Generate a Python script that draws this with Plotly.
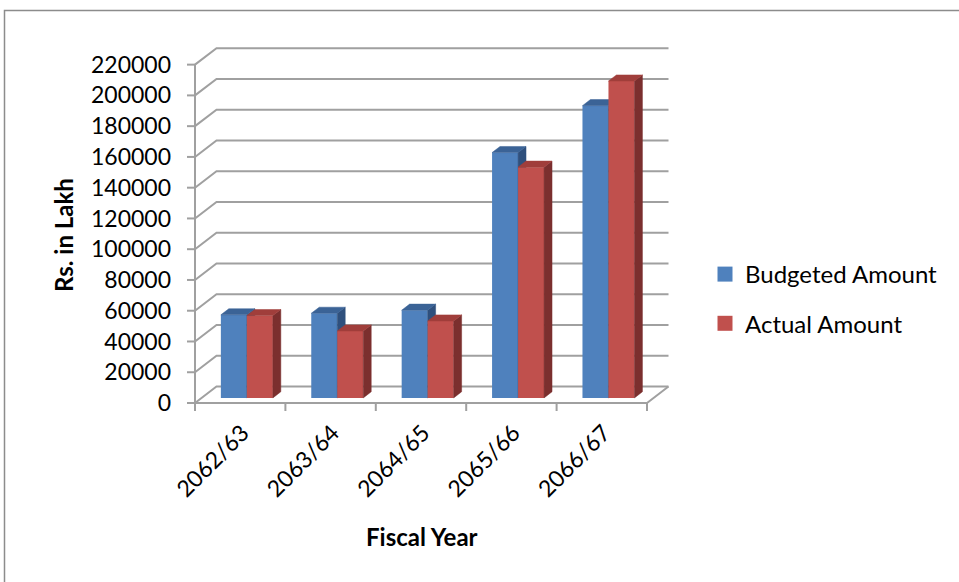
import plotly.graph_objects as go

# ---- data -------------------------------------------------------------
years = ["2062/63", "2063/64", "2064/65", "2065/66", "2066/67"]
budgeted = [54000, 55000, 57000, 159500, 190000]
actual = [53500, 43500, 50000, 150000, 206000]
y_ticks = list(range(0, 220001, 20000))

# ---- layout geometry (pixels) -----------------------------------------
W, H = 959, 582
PLOT_L, PLOT_R, PLOT_T, PLOT_B = 180, 675, 40, 420
FRONT_X0 = 195.0          # pixel of the front-left corner of the floor
CAT_PX = 90.4             # pixels per category
FRONT_Y0 = 403.0          # pixel of value 0 on the front plane
PX_PER_UNIT = 30.76 / 20000

n = len(years)
x_range = [-0.5 - (FRONT_X0 - PLOT_L) / CAT_PX,
           n - 0.5 + (PLOT_R - (FRONT_X0 + n * CAT_PX)) / CAT_PX]
y_range = [-(PLOT_B - FRONT_Y0) / PX_PER_UNIT, (FRONT_Y0 - PLOT_T) / PX_PER_UNIT]

# oblique depth of the 3-D box, in data units
DX = 21.5 / CAT_PX
DY = 16.5 / PX_PER_UNIT
# bars sit part way into the box
FRONT = 0.31
DEPTH = 0.37
BW = 26 / CAT_PX
SHIFT_X, BASE = FRONT * DX, FRONT * DY
DDX, DDY = DEPTH * DX, DEPTH * DY
TICK_X = 8 / CAT_PX
TICK_Y = 8 / PX_PER_UNIT

GRID = "#a0a0a0"
FONT = "Lato"


def px_to_paper_x(px):
    return (px - PLOT_L) / (PLOT_R - PLOT_L)


def px_to_paper_y(py):
    return (PLOT_B - py) / (PLOT_B - PLOT_T)


fig = go.Figure()

# ---- walls, floor, axis lines (base layer) ----------------------------
gx, gy = [], []
xl, xr = -0.5, n - 0.5
for v in y_ticks:
    # back-wall gridline and the slanted line on the side wall
    gx += [xl, xl + DX, xr + DX, None]
    gy += [v, v + DY, v + DY, None]
# floor: front edge and right edge
gx += [xl, xr, xr + DX, None]
gy += [0, 0, DY, None]
# front vertical axis
gx += [xl, xl, None]
gy += [0, y_ticks[-1], None]
# tick marks on the vertical axis
for v in y_ticks:
    gx += [xl - TICK_X, xl, None]
    gy += [v, v, None]
# tick marks between categories
for k in range(n + 1):
    b = k - 0.5
    gx += [b, b, None]
    gy += [0, -TICK_Y, None]
fig.add_trace(go.Scatter(x=gx, y=gy, mode="lines",
                         line=dict(color=GRID, width=2),
                         hoverinfo="skip", showlegend=False,
                         xaxis="x", yaxis="y"))


def faces(centers, values):
    sx, sy, tx, ty = [], [], [], []
    for c, val in zip(centers, values):
        left, right = c - BW / 2, c + BW / 2
        top = BASE + val
        sx += [right, right + DDX, right + DDX, right, right, None]
        sy += [BASE, BASE + DDY, top + DDY, top, BASE, None]
        tx += [left, left + DDX, right + DDX, right, left, None]
        ty += [top, top + DDY, top + DDY, top, top, None]
    return sx, sy, tx, ty


series = [
    ("Budgeted Amount", budgeted, -1, "#4f81bd", "#3b6396", "#2f507d", "2"),
    ("Actual Amount", actual, 1, "#c0504d", "#a03e3b", "#7b2f2e", "3"),
]

for name, vals, side, front_c, top_c, side_c, ax in series:
    centers = [i + SHIFT_X + side * BW / 2 for i in range(n)]
    fig.add_trace(go.Bar(x=centers, y=vals, base=[BASE] * n, width=BW,
                         marker=dict(color=front_c, line=dict(width=0)),
                         name=name, showlegend=False,
                         xaxis="x" + ax, yaxis="y" + ax))
    sx, sy, tx, ty = faces(centers, vals)
    fig.add_trace(go.Scatter(x=sx, y=sy, mode="lines", fill="toself",
                             fillcolor=side_c, line=dict(color=side_c, width=0.5),
                             hoverinfo="skip", showlegend=False,
                             xaxis="x" + ax, yaxis="y" + ax))
    fig.add_trace(go.Scatter(x=tx, y=ty, mode="lines", fill="toself",
                             fillcolor=top_c, line=dict(color=top_c, width=0.5),
                             hoverinfo="skip", showlegend=False,
                             xaxis="x" + ax, yaxis="y" + ax))
    # legend entry
    fig.add_trace(go.Scatter(x=[None], y=[None], mode="markers", name=name,
                             legendgroup=name,
                             marker=dict(symbol="square", size=15, color=front_c),
                             xaxis="x", yaxis="y"))

hidden = dict(range=x_range, visible=False, fixedrange=True)
hidden_y = dict(range=y_range, visible=False, fixedrange=True)

fig.update_layout(
    width=W, height=H,
    margin=dict(l=PLOT_L, r=W - PLOT_R, t=PLOT_T, b=H - PLOT_B),
    paper_bgcolor="white", plot_bgcolor="rgba(0,0,0,0)",
    barmode="overlay",
    font=dict(family=FONT, size=23, color="black"),
    xaxis=dict(range=x_range, tickmode="array", tickvals=list(range(n)),
               ticktext=years, tickangle=-45, showgrid=False, zeroline=False,
               showline=False, ticks="", tickfont=dict(size=23),
               ticklabelstandoff=-6, ticklabelshift=2,
               fixedrange=True),
    yaxis=dict(range=y_range, tickmode="array", tickvals=y_ticks,
               ticktext=[str(v) for v in y_ticks], showgrid=False,
               zeroline=False, showline=False, ticks="",
               ticklabelstandoff=8, tickfont=dict(size=23), fixedrange=True),
    xaxis2=dict(overlaying="x", **hidden),
    yaxis2=dict(overlaying="y", **hidden_y),
    xaxis3=dict(overlaying="x", **hidden),
    yaxis3=dict(overlaying="y", **hidden_y),
    legend=dict(x=px_to_paper_x(705), y=px_to_paper_y(252),
                xanchor="left", yanchor="top",
                font=dict(size=24), tracegroupgap=15,
                traceorder="grouped", bgcolor="rgba(0,0,0,0)",
                borderwidth=0),
    annotations=[
        dict(text="<b>Rs. in Lakh</b>", textangle=-90, showarrow=False,
             xref="paper", yref="paper",
             x=px_to_paper_x(64), y=px_to_paper_y(235),
             xanchor="center", yanchor="middle", font=dict(size=24)),
        dict(text="<b>Fiscal Year</b>", showarrow=False,
             xref="paper", yref="paper",
             x=px_to_paper_x(422), y=px_to_paper_y(536),
             xanchor="center", yanchor="middle", font=dict(size=24)),
    ],
    shapes=[
        dict(type="rect", xref="paper", yref="paper",
             x0=px_to_paper_x(4.5), x1=px_to_paper_x(975),
             y0=px_to_paper_y(600), y1=px_to_paper_y(10.5),
             line=dict(color="#8c8c8c", width=1.5), layer="below"),
    ],
)

fig.write_html("out.html")
